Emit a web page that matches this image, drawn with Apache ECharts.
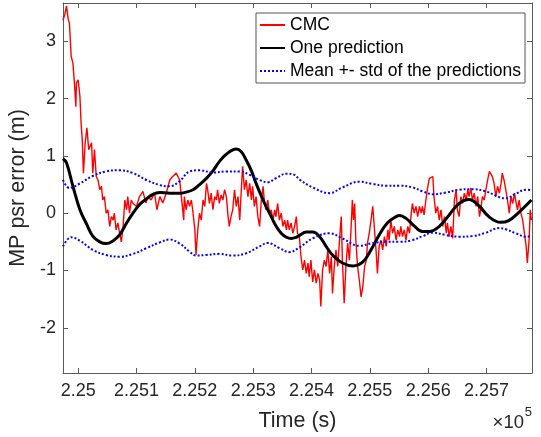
<!DOCTYPE html>
<html>
<head>
<meta charset="utf-8">
<script src="https://cdn.jsdelivr.net/npm/echarts@6/dist/echarts.min.js"></script>
<style>html,body{margin:0;padding:0;background:#fff;}#chart{width:541px;height:437px;}</style>
</head>
<body>
<div id="chart"></div>
<script>
// ---- data (time in s, error in m) ----
const xTicks = [225000, 225100, 225200, 225300, 225400, 225500, 225600, 225700];
const yTicks = [-2, -1, 0, 1, 2, 3];

const cmcTime = [224974,224977,224980,224983,224985,224988,224991,224994,224996,224997,225000,225003,225005,225007,225009,225012,225015,225018,225023,225025,225028,225031,225034,225037,225040,225042,225045,225048,225051,225054,225057,225060,225062,225065,225068,225071,225074,225077,225080,225083,225085,225088,225091,225094,225100,225105,225111,225116,225120,225125,225131,225135,225140,225145,225151,225157,225162,225168,225174,225178,225181,
225182,225185,225188,225191,225194,225197,225200,225202,225205,225208,225211,225214,225217,225220,225222,225225,225228,225231,225234,225237,225239,225242,225245,225248,225251,225254,225257,225259,225262,225265,225268,225271,225274,225277,225280,225282,225285,225288,225291,225294,225297,225299,225302,225305,225308,225311,225314,225317,225319,225322,225325,225328,225331,225334,225337,225339,225342,225345,225348,225351,225354,225357,225359,225362,225365,225368,225371,225374,225376,
225379,225382,225385,225388,225391,225394,225396,225399,225402,225405,225408,225411,225414,225416,225419,225422,225425,225428,225431,225434,225436,225439,225442,225445,225448,225451,225453,225456,225459,225462,225465,225468,225470,225472,225474,225476,225479,225482,225485,225488,225491,225494,225496,225499,225502,225505,225508,225511,225513,225516,225519,225522,225525,225528,225531,225533,225536,225539,225542,225545,225548,225551,225553,225556,225559,225562,225565,225568,225571,225573,225576,225579,225582,225585,225588,225590,
225593,225596,225599,225602,225605,225608,225610,225613,225616,225619,225622,225625,225628,225631,225633,225636,225639,225642,225645,225648,225650,225653,225656,225659,225662,225665,225668,225670,225673,225676,225679,225682,225685,225688,225690,225693,225696,225699,225702,225705,225708,225710,225713,225716,225719,225722,225725,225727,225730,225733,225736,225739,225742,225745,225748,225750,225753,225756,225759,225762,225765,225768,225770,225773,225775,225777];
const cmcValue = [3.37,3.47,3.62,3.38,3.32,2.74,2.62,2.21,1.86,2.27,2.33,2.04,1.58,1.28,0.70,1.23,1.49,1.11,1.23,0.70,1.11,0.64,0.58,0.41,0.47,0.23,0.29,0.00,0.06,-0.23,-0.06,-0.12,0.00,-0.29,-0.17,-0.35,-0.50,-0.23,0.23,0.06,0.29,0.00,0.23,0.17,0.12,0.29,0.38,0.18,0.29,0.23,0.35,0.06,0.29,0.18,0.35,0.58,0.64,0.70,0.58,0.18,-0.12,
0.29,0.06,0.23,0.12,0.23,0.00,-0.29,-0.73,-0.29,0.00,-0.12,0.23,0.12,0.52,0.41,0.17,0.35,0.06,0.29,0.23,0.41,0.17,0.32,0.23,0.41,0.29,-0.06,-0.23,-0.06,0.06,0.41,0.12,0.29,-0.12,0.47,0.82,0.41,0.58,0.29,0.52,0.23,0.47,0.12,0.29,-0.06,-0.23,0.23,0.47,0.23,0.06,0.23,0.00,0.06,-0.12,0.06,-0.06,0.17,-0.12,0.00,-0.23,-0.12,-0.29,-0.12,-0.29,-0.17,-0.35,-0.23,-0.06,-0.35,
-0.40,-0.76,-0.99,-0.82,-1.05,-0.87,-1.11,-0.82,-1.20,-0.99,-1.22,-1.05,-1.17,-1.63,-0.99,-0.82,-0.93,-0.64,-1.05,-0.76,-1.40,-0.93,-0.64,-0.93,-0.47,-0.06,-0.82,-1.57,-0.93,-0.52,-0.82,-0.23,0.23,-0.12,0.17,-0.47,-0.93,-1.17,-1.46,-1.28,-0.93,-0.82,-0.52,-0.35,-0.12,0.12,-0.29,-0.70,-1.05,-0.58,-0.47,-0.64,-0.41,-0.58,-0.29,-0.47,-0.12,-0.35,-0.23,-0.47,-0.29,-0.41,-0.23,-0.41,-0.29,-0.47,-0.23,-0.35,0.00,0.17,0.00,0.12,-0.06,0.12,0.00,0.12,
-0.03,0.23,0.44,0.61,0.58,0.64,0.29,0.00,0.12,-0.12,0.06,-0.23,-0.06,-0.35,-0.17,-0.41,-0.23,-0.44,0.23,0.41,0.06,-0.06,0.29,0.17,0.35,0.23,0.41,0.29,0.44,0.23,0.35,0.12,0.29,-0.06,0.06,0.29,0.23,0.41,0.58,0.73,0.76,0.64,0.52,0.29,0.47,0.35,0.52,0.70,0.58,0.41,0.23,0.00,0.29,0.17,0.35,0.23,0.06,0.23,0.00,-0.12,-0.35,-0.58,-0.87,-0.47,0.06,-0.12];

const predTime = [224974,224980,224991,225003,225014,225025,225037,225048,225060,225071,225083,225094,225105,225117,225128,225140,225157,225174,225182,225197,225208,225219,225231,225242,225254,225271,225279,225288,225297,225305,225314,225322,225331,225339,225348,225357,225365,225374,225379,225391,225402,225414,225425,225436,225453,225471,225488,225502,225516,225530,225545,225551,225562,225576,225590,225602,225619,225636,225653,225670,225687,225704,225724,225738,225755,225777];
const predValue = [0.95,0.88,0.47,0.06,-0.18,-0.40,-0.50,-0.53,-0.48,-0.38,-0.17,0.00,0.15,0.25,0.33,0.36,0.35,0.35,0.36,0.41,0.50,0.60,0.74,0.90,1.03,1.12,1.08,0.93,0.74,0.52,0.30,0.12,-0.06,-0.22,-0.35,-0.42,-0.44,-0.42,-0.39,-0.33,-0.33,-0.41,-0.58,-0.73,-0.87,-0.92,-0.85,-0.64,-0.38,-0.17,-0.06,-0.04,-0.09,-0.22,-0.32,-0.32,-0.23,-0.03,0.17,0.24,0.13,-0.06,-0.16,-0.13,0.01,0.23];

const stdTime = [224974,224985,225003,225025,225048,225071,225094,225117,225140,225157,225174,225191,225208,225231,225254,225277,225294,225311,225325,225339,225357,225371,225379,225402,225431,225453,225482,225505,225528,225551,225573,225591,225608,225630,225653,225676,225699,225722,225733,225750,225768,225777];
const upperValue = [0.58,0.44,0.52,0.65,0.73,0.75,0.70,0.58,0.49,0.47,0.56,0.73,0.75,0.71,0.73,0.73,0.67,0.58,0.54,0.61,0.69,0.67,0.59,0.45,0.35,0.45,0.55,0.51,0.48,0.48,0.45,0.38,0.33,0.36,0.41,0.42,0.38,0.28,0.26,0.34,0.41,0.40];
const lowerTime = [224974,224988,225003,225025,225048,225071,225094,225117,225140,225157,225174,225191,225202,225219,225242,225265,225288,225311,225325,225345,225362,225379,225402,225431,225453,225482,225505,225528,225551,225573,225591,225608,225630,225653,225676,225699,225722,225733,225750,225768,225777];
const lowerValue = [-0.58,-0.42,-0.48,-0.64,-0.73,-0.76,-0.71,-0.61,-0.51,-0.46,-0.53,-0.67,-0.74,-0.73,-0.71,-0.74,-0.70,-0.58,-0.52,-0.61,-0.68,-0.60,-0.44,-0.35,-0.44,-0.57,-0.52,-0.50,-0.50,-0.47,-0.40,-0.34,-0.38,-0.41,-0.40,-0.34,-0.26,-0.28,-0.35,-0.41,-0.40];

const X_MIN = 224974, X_MAX = 225778, Y_MIN = -2.79, Y_MAX = 3.67;

const pairs = (t, v) => t.map((x, i) => [x, v[i]]);
const FONT = 'Liberation Sans, Arial, Helvetica, sans-serif';
const AXC = '#5a5a5a';
const TXT = '#262626';
const TICK_FS = 18, TITLE_FS = 21.5;

const chart = echarts.init(document.getElementById('chart'), null, {renderer: 'canvas'});
const baseAxisLine = {show: true, onZero: false, lineStyle: {color: AXC, width: 1}};
const option = {
  animation: false,
  backgroundColor: '#fff',
  grid: {left: 63, right: 9, top: 3, bottom: 64, containLabel: false, outerBoundsMode: 'none'},
  xAxis: [{
    type: 'value', min: X_MIN, max: X_MAX, position: 'bottom',
    axisLine: baseAxisLine,
    axisTick: {show: true, inside: true, length: 5, lineStyle: {color: AXC}, customValues: xTicks},
    axisLabel: {show: true, customValues: xTicks, margin: 9, color: TXT, fontSize: TICK_FS, fontFamily: FONT,
      formatter: v => String(+(v / 1e5).toFixed(3))},
    splitLine: {show: false},
    name: 'Time (s)', nameLocation: 'middle', nameGap: 37,
    nameTextStyle: {color: TXT, fontSize: TITLE_FS, fontFamily: FONT}
  }, {
    type: 'value', min: X_MIN, max: X_MAX, position: 'top',
    axisLine: baseAxisLine,
    axisTick: {show: true, inside: true, length: 5, lineStyle: {color: AXC}, customValues: xTicks},
    axisLabel: {show: false}, splitLine: {show: false}
  }],
  yAxis: [{
    type: 'value', min: Y_MIN, max: Y_MAX, position: 'left',
    axisLine: baseAxisLine,
    axisTick: {show: true, inside: true, length: 5, lineStyle: {color: AXC}, customValues: yTicks},
    axisLabel: {show: true, customValues: yTicks, margin: 7, color: TXT, fontSize: TICK_FS, fontFamily: FONT},
    splitLine: {show: false},
    name: 'MP psr error (m)', nameLocation: 'middle', nameGap: 27,
    nameTextStyle: {color: TXT, fontSize: TITLE_FS, fontFamily: FONT}
  }, {
    type: 'value', min: Y_MIN, max: Y_MAX, position: 'right',
    axisLine: baseAxisLine,
    axisTick: {show: true, inside: true, length: 5, lineStyle: {color: AXC}, customValues: yTicks},
    axisLabel: {show: false}, splitLine: {show: false}
  }],
  legend: {
    orient: 'vertical', left: 256, top: 13,
    data: ['CMC', 'One prediction', 'Mean +- std of the predictions'],
    itemWidth: 25, itemHeight: 14, itemGap: 3,
    padding: [2, 4, 2, 3],
    borderColor: '#555', borderWidth: 1, backgroundColor: '#fff',
    selectedMode: false,
    itemStyle: {opacity: 0, borderWidth: 0},
    textStyle: {color: '#000', fontSize: 17.5, fontFamily: FONT, lineHeight: 20}
  },
  series: [{
    name: 'CMC', type: 'line', data: pairs(cmcTime, cmcValue),
    symbol: 'none', lineStyle: {color: '#ff0000', width: 1.4}, itemStyle: {color: '#ff0000'}, z: 2
  }, {
    name: 'One prediction', type: 'line', data: pairs(predTime, predValue), smooth: 0.4,
    symbol: 'none', lineStyle: {color: '#000', width: 3}, itemStyle: {color: '#000'}, z: 3
  }, {
    name: 'Mean +- std of the predictions', type: 'line', data: pairs(stdTime, upperValue), smooth: 0.4,
    symbol: 'none', lineStyle: {color: '#0000ff', width: 2, type: [2, 2]}, itemStyle: {color: '#0000ff'}, z: 4
  }, {
    name: 'Mean - std', type: 'line', data: pairs(lowerTime, lowerValue), smooth: 0.4,
    symbol: 'none', lineStyle: {color: '#0000ff', width: 2, type: [2, 2]}, itemStyle: {color: '#0000ff'}, z: 4
  }],
  graphic: [{
    type: 'text', right: 17, top: 413,
    style: {text: '×10', fontSize: 18.5, fontFamily: FONT, fill: TXT}
  }, {
    type: 'text', right: 9, top: 406,
    style: {text: '5', fontSize: 13, fontFamily: FONT, fill: TXT}
  }]
};
chart.setOption(option);
</script>
</body>
</html>
